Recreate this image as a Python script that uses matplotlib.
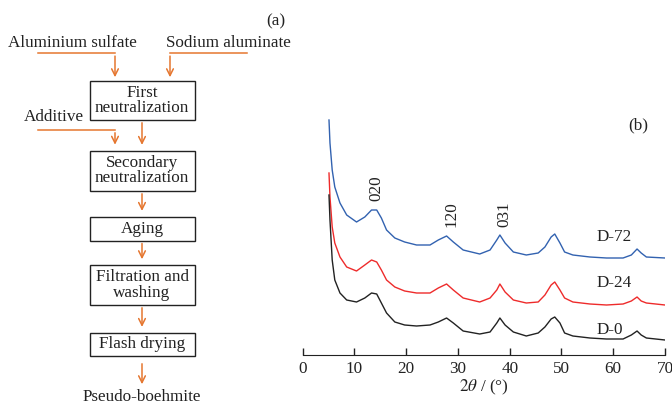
import matplotlib
matplotlib.use("Agg")
import matplotlib.pyplot as plt

plt.rcParams['font.family'] = ['Liberation Serif', 'DejaVu Serif']
plt.rcParams['mathtext.fontset'] = 'stix'

# --- data (b): XRD patterns, intensity in arbitrary units ---
two_theta = [5.08, 5.27, 5.7, 6.2, 7.2, 8.5, 10.4, 12.0, 13.3, 14.3, 15.2, 16.2,
             17.8, 19.7, 22.0, 24.6, 26.2, 27.8, 29.1, 31.0, 34.2, 36.2, 37.5,
             38.1, 39.1, 40.7, 43.2, 45.5, 46.8, 48.0, 48.7, 49.7, 50.6, 52.2,
             55.5, 58.7, 61.9, 63.5, 64.6, 65.4, 66.4, 70.0]
d72 = [235, 212, 185, 168, 152, 140, 133, 138, 145, 145, 137, 125,
       117, 113, 110, 110, 115, 119, 113, 105, 101, 105, 115,
       120, 112, 103, 100, 102, 108, 118, 121, 112, 103, 100,
       98, 97, 97, 100, 106, 102, 98, 97]
d24 = [182, 158, 128, 112, 98, 88, 84, 90, 95, 93, 85, 75,
       68, 64, 62, 62, 67, 71, 65, 57, 53, 57, 65,
       71, 63, 55, 52, 53, 60, 70, 73, 65, 57, 53,
       51, 50, 51, 54, 58, 54, 52, 50]
d0 = [160, 135, 95, 75, 62, 55, 53, 57, 62, 61, 52, 42,
      33, 30, 29, 30, 33, 37, 32, 24, 21, 23, 32,
      37, 30, 23, 19, 22, 28, 36, 38, 32, 22, 19,
      17, 16, 16, 20, 24, 20, 17, 15]
series_names = ['D-72', 'D-24', 'D-0']
series_colors = ['#3262b0', '#ee2b2b', '#222222']
peak_labels = ['020', '120', '031']
peak_pos = [(14.3, 167), (28.7, 141), (39.0, 141)]

# --- data (a): process flow ---
steps = ['First\nneutralization', 'Secondary\nneutralization', 'Aging',
         'Filtration and\nwashing', 'Flash drying']
product = 'Pseudo-boehmite'
feeds = ['Aluminium sulfate', 'Sodium aluminate', 'Additive']

orange = '#e5762f'
fs = 12.3

fig = plt.figure(figsize=(6.72, 4.05), dpi=100)

# flowchart drawn in pixel coordinates on a full-figure axes
fa = fig.add_axes([0, 0, 1, 1])
fa.set_xlim(0, 672)
fa.set_ylim(405, 0)
fa.axis('off')

box_x0, box_x1 = 89.5, 194.5
cx = (box_x0 + box_x1) / 2
box_y = [(80.7, 120), (150.7, 191), (216.7, 240.7), (265, 305), (332.7, 356)]
for label, (y0, y1) in zip(steps, box_y):
    fa.add_patch(plt.Rectangle((box_x0, y0), box_x1 - box_x0, y1 - y0,
                               fill=False, ec='#222222', lw=1.0))
    fa.text(cx, (y0 + y1) / 2, label, ha='center', va='center', fontsize=fs,
            linespacing=0.92, color='#222222')

arr = dict(arrowstyle='->', color=orange, lw=1.1, mutation_scale=12)
# arrows between boxes
for (a0, a1), (b0, b1) in zip(box_y[:-1], box_y[1:]):
    fa.annotate('', xy=(cx, b0 - 3), xytext=(cx, a1), arrowprops=arr)
fa.annotate('', xy=(cx, 387), xytext=(cx, 361), arrowprops=arr)
fa.text(cx, 397, product, ha='center', va='center', fontsize=fs, color='#222222')

# feeds
fa.text(8, 43, feeds[0], ha='left', va='center', fontsize=fs, color='#222222')
fa.plot([37.7, 115], [53.3, 53.3], color=orange, lw=1.1)
fa.annotate('', xy=(115, 80), xytext=(115, 53.3), arrowprops=arr)
fa.text(166, 43, feeds[1], ha='left', va='center', fontsize=fs, color='#222222')
fa.plot([246.7, 170], [53.3, 53.3], color=orange, lw=1.1)
fa.annotate('', xy=(170, 80), xytext=(170, 53.3), arrowprops=arr)
fa.text(24, 117, feeds[2], ha='left', va='center', fontsize=fs, color='#222222')
fa.plot([37.7, 115], [130, 130], color=orange, lw=1.1)
fa.annotate('', xy=(115, 147.5), xytext=(115, 130), arrowprops=arr)
fa.text(276, 21, '(a)', ha='center', va='center', fontsize=fs, color='#222222')

# XRD panel
ax = fig.add_axes([302.7 / 672, 50 / 405, 362.3 / 672, 245 / 405])
for ys, name, col in zip([d72, d24, d0], series_names, series_colors):
    ax.plot(two_theta, ys, color=col, lw=1.0)
for lab, (px, py) in zip(peak_labels, peak_pos):
    ax.text(px, py, lab, rotation=90, ha='center', va='center', fontsize=fs,
            color='#222222')
for name, yv in zip(series_names, [118, 72, 25]):
    ax.text(56.8, yv, name, ha='left', va='center', fontsize=fs, color='#222222')
ax.text(64.9, 230, '(b)', ha='center', va='center', fontsize=fs, color='#222222')

ax.set_xlim(0, 70)
ax.set_ylim(0, 245)
for s in ['left', 'top', 'right']:
    ax.spines[s].set_visible(False)
ax.spines['bottom'].set_color('#222222')
ax.set_yticks([])
ax.set_xticks(range(0, 71, 10))
ax.tick_params(axis='x', direction='in', length=5, width=1, labelsize=fs,
               colors='#222222', pad=4)
ax.set_xlabel(r'$2\theta$ / (°)', fontsize=fs, color='#222222', labelpad=1)
ax.patch.set_alpha(0)

fig.savefig('out.png', dpi=100)
